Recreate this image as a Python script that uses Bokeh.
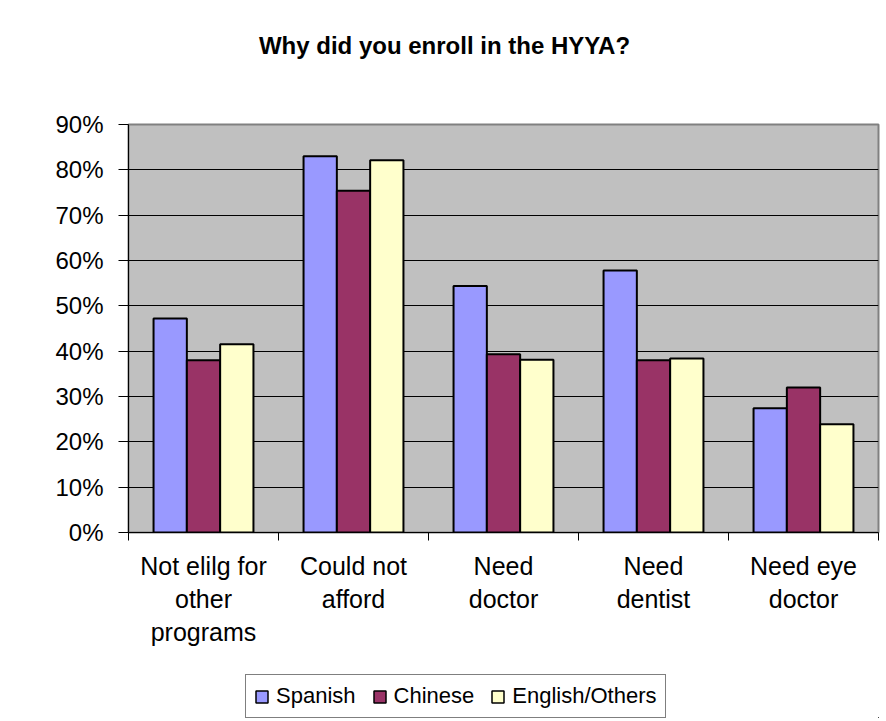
from bokeh.plotting import figure
from bokeh.layouts import column
from bokeh.models import (Range1d, LinearAxis, FixedTicker, NumeralTickFormatter, Legend,
                          LegendItem, ColumnDataSource, Label)
from bokeh.transform import dodge
from bokeh.embed import file_html
from bokeh.resources import INLINE

# ---- data ----
categories = ["Not elilg for\nother\nprograms", "Could not\nafford", "Need\ndoctor",
              "Need\ndentist", "Need eye\ndoctor"]
series = ["Spanish", "Chinese", "English/Others"]
spanish = [0.472, 0.830, 0.544, 0.578, 0.274]
chinese = [0.380, 0.754, 0.393, 0.380, 0.320]
english = [0.415, 0.821, 0.381, 0.384, 0.239]
colors = ["#9999FF", "#993366", "#FFFFCC"]
y_tick_values = [0.0, 0.1, 0.2, 0.3, 0.4, 0.5, 0.6, 0.7, 0.8, 0.9]
title_text = "Why did you enroll in the HYYA?"

FONT = "Liberation Sans"
W = 880

n = len(categories)
centers = [i + 0.5 for i in range(n)]
bounds = [float(i) for i in range(n + 1)]

src = ColumnDataSource(dict(center=centers, Spanish=spanish, Chinese=chinese,
                            **{"English/Others": english}))


def blank_figure(h, xr=(0, 1), yr=(0, 1)):
    f = figure(width=W, height=h, x_range=Range1d(*xr), y_range=Range1d(*yr),
               output_backend="svg", toolbar_location=None,
               x_axis_location=None, y_axis_location=None,
               min_border_left=0, min_border_right=0, min_border_top=0, min_border_bottom=0)
    f.outline_line_color = None
    f.xgrid.visible = False
    f.ygrid.visible = False
    f.background_fill_color = "white"
    f.border_fill_color = "white"
    return f


# ---- title strip ----
p0 = blank_figure(60)
p0.add_layout(Label(x=316, y=15, x_units="screen", y_units="screen", text=title_text,
                    text_align="center", text_baseline="alphabetic",
                    text_font=FONT, text_font_size="24px", text_font_style="bold",
                    text_color="black"))

# ---- main chart ----
p = figure(width=W, height=610, x_range=Range1d(0, n), y_range=Range1d(0, 0.9),
           output_backend="svg", toolbar_location=None,
           x_axis_location=None, y_axis_location=None,
           min_border_left=128, min_border_right=2, min_border_top=64, min_border_bottom=138)
p.background_fill_color = "#C0C0C0"
p.border_fill_color = "white"
p.outline_line_color = "#808080"
p.outline_line_width = 2

yax = LinearAxis(ticker=FixedTicker(ticks=y_tick_values),
                 formatter=NumeralTickFormatter(format="0%"))
yax.major_tick_in = 0
yax.major_tick_out = 10
yax.minor_tick_line_color = None
yax.major_label_standoff = 15
yax.major_label_text_font = FONT
yax.major_label_text_font_size = "24px"
yax.major_label_text_color = "black"
yax.axis_line_color = "black"
p.add_layout(yax, "left")

xax = LinearAxis(ticker=FixedTicker(ticks=centers, minor_ticks=bounds))
xax.major_label_overrides = {c: lab for c, lab in zip(centers, categories)}
xax.major_tick_line_color = None
xax.minor_tick_in = 0
xax.minor_tick_out = 8
xax.minor_tick_line_color = "black"
xax.axis_line_color = "black"
xax.major_label_text_font = FONT
xax.major_label_text_font_size = "25px"
xax.major_label_text_color = "black"
xax.major_label_text_line_height = 1.18
xax.major_label_standoff = 11
p.add_layout(xax, "below")

p.xgrid.visible = False
p.ygrid.ticker = FixedTicker(ticks=y_tick_values[1:-1])
p.ygrid.grid_line_color = "black"
p.ygrid.grid_line_width = 1

bw = 0.222
for i, (name, col) in enumerate(zip(series, colors)):
    p.vbar(x=dodge("center", (i - 1) * bw), top=name, width=bw,
           source=src, fill_color=col, line_color="black", line_width=2)

# ---- legend strip (its bars lie outside this strip's visible range) ----
p2 = blank_figure(48, xr=(-20, -19), yr=(5, 6))
items = []
for i, (name, col) in enumerate(zip(series, colors)):
    r = p2.vbar(x=dodge("center", (i - 1) * bw), top=name, width=bw, source=src,
                fill_color=col, line_color="black", line_width=1.5)
    items.append(LegendItem(label=name, renderers=[r]))
legend = Legend(items=items, orientation="horizontal", location=(117, 0))
legend.label_text_font = FONT
legend.label_text_font_size = "22px"
legend.label_text_color = "black"
legend.glyph_width = 15
legend.glyph_height = 15
legend.label_standoff = 7
legend.spacing = 16
legend.padding = 8
legend.margin = 0
legend.border_line_color = "black"
legend.border_line_width = 1
legend.background_fill_color = "white"
legend.background_fill_alpha = 1
p2.add_layout(legend, "center")

layout = column(p0, p, p2, spacing=0)
open("out.html", "w").write(file_html(layout, INLINE))
